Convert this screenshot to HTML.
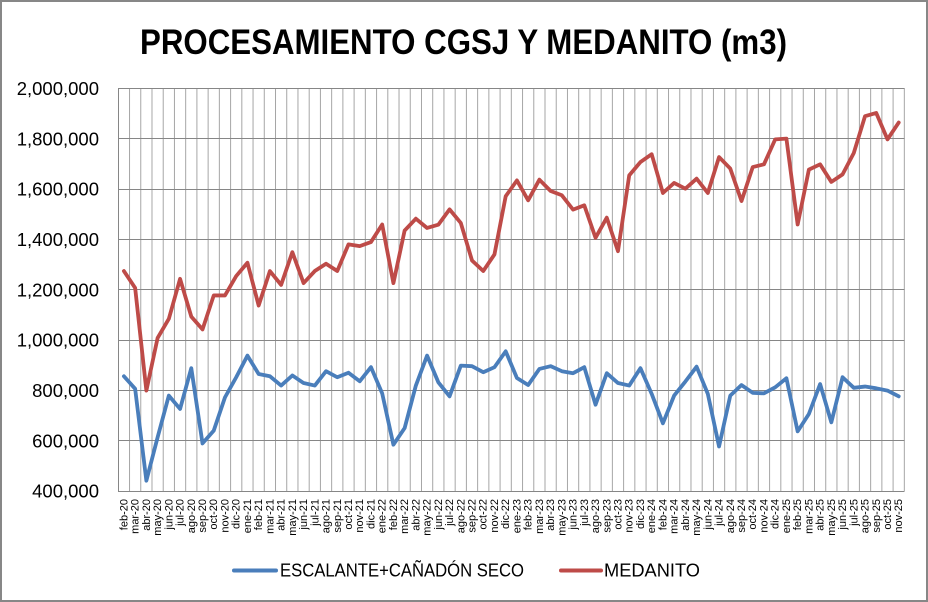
<!DOCTYPE html>
<html><head><meta charset="utf-8"><style>
html,body{margin:0;padding:0;background:#fff;}
svg{display:block;}
text{font-family:"Liberation Sans",Arial,sans-serif;fill:#000;}
</style></head><body>
<svg width="928" height="602" viewBox="0 0 928 602" xmlns="http://www.w3.org/2000/svg">
<rect x="0" y="0" width="928" height="602" fill="#fff"/>
<rect x="1" y="1" width="926" height="600" fill="none" stroke="#878787" stroke-width="2"/>
<text x="140" y="54" font-size="35" font-weight="bold" textLength="647" lengthAdjust="spacingAndGlyphs">PROCESAMIENTO CGSJ Y MEDANITO (m3)</text>
<!-- vertical gridlines -->
<g transform="matrix(11.229 0 0 402.7 118.3 88.3)">
<path vector-effect="non-scaling-stroke" stroke="#a6a6a6" stroke-width="1" fill="none" d="M1 0V1M2 0V1M3 0V1M4 0V1M5 0V1M6 0V1M7 0V1M8 0V1M9 0V1M10 0V1M11 0V1M12 0V1M13 0V1M14 0V1M15 0V1M16 0V1M17 0V1M18 0V1M19 0V1M20 0V1M21 0V1M22 0V1M23 0V1M24 0V1M25 0V1M26 0V1M27 0V1M28 0V1M29 0V1M30 0V1M31 0V1M32 0V1M33 0V1M34 0V1M35 0V1M36 0V1M37 0V1M38 0V1M39 0V1M40 0V1M41 0V1M42 0V1M43 0V1M44 0V1M45 0V1M46 0V1M47 0V1M48 0V1M49 0V1M50 0V1M51 0V1M52 0V1M53 0V1M54 0V1M55 0V1M56 0V1M57 0V1M58 0V1M59 0V1M60 0V1M61 0V1M62 0V1M63 0V1M64 0V1M65 0V1M66 0V1M67 0V1M68 0V1M69 0V1M70 0V1"/>
</g>
<!-- horizontal gridlines -->
<g stroke="#868686" stroke-width="1" shape-rendering="crispEdges">
<line x1="118.3" x2="904.5" y1="88.5" y2="88.5"/>
<line x1="118.3" x2="904.5" y1="138.5" y2="138.5"/>
<line x1="118.3" x2="904.5" y1="189.5" y2="189.5"/>
<line x1="118.3" x2="904.5" y1="239.5" y2="239.5"/>
<line x1="118.3" x2="904.5" y1="289.5" y2="289.5"/>
<line x1="118.3" x2="904.5" y1="340.5" y2="340.5"/>
<line x1="118.3" x2="904.5" y1="390.5" y2="390.5"/>
<line x1="118.3" x2="904.5" y1="440.5" y2="440.5"/>
<line x1="118.3" x2="904.5" y1="491.5" y2="491.5"/>
<line x1="118.5" x2="118.5" y1="88" y2="492"/>
</g>
<!-- y labels -->
<g font-size="18.5" text-anchor="end">
<text x="99" y="95">2,000,000</text>
<text x="99" y="145.3">1,800,000</text>
<text x="99" y="195.7">1,600,000</text>
<text x="99" y="246">1,400,000</text>
<text x="99" y="296.4">1,200,000</text>
<text x="99" y="346.7">1,000,000</text>
<text x="99" y="397">800,000</text>
<text x="99" y="447.4">600,000</text>
<text x="99" y="497.7">400,000</text>
</g>
<!-- series -->
<g transform="matrix(11.229 0 0 -0.25169 123.91 591.68)" fill="none" stroke-linejoin="round" stroke-linecap="round">
<polyline vector-effect="non-scaling-stroke" stroke="#4A7EBB" stroke-width="3.8" points="0,856 1,806 2,441 3,613 4,779 5,726 6,888 7,589 8,640 9,772 10,852 11,938 12,865 13,856 14,819 15,859 16,829 17,819 18,876 19,852 20,870 21,836 22,892 23,788 24,584 25,650 26,819 27,938 28,832 29,776 30,898 31,896 32,872 33,892 34,955 35,849 36,821 37,885 38,896 39,876 40,868 41,892 42,743 43,868 44,829 45,819 46,888 47,786 48,669 49,779 50,835 51,894 52,786 53,577 54,779 55,821 56,790 57,788 58,812 59,848 60,637 61,706 62,825 63,673 64,852 65,810 66,815 67,808 68,799 69,776"/>
<polyline vector-effect="non-scaling-stroke" stroke="#BE4B48" stroke-width="3.8" points="0,1274 1,1207 2,799 3,1008 4,1084 5,1243 6,1093 7,1042 8,1177 9,1177 10,1254 11,1307 12,1137 13,1274 14,1219 15,1349 16,1226 17,1274 18,1303 19,1274 20,1380 21,1373 22,1389 23,1459 24,1226 25,1435 26,1482 27,1445 28,1458 29,1519 30,1465 31,1316 32,1274 33,1340 34,1571 35,1634 36,1555 37,1637 38,1592 39,1575 40,1518 41,1535 42,1406 43,1486 44,1353 45,1654 46,1707 47,1738 48,1584 49,1624 50,1601 51,1641 52,1584 53,1727 54,1681 55,1552 56,1687 57,1698 58,1797 59,1800 60,1459 61,1677 62,1698 63,1628 64,1658 65,1743 66,1889 67,1902 68,1797 69,1864"/>
</g>
<!-- x labels -->
<g font-size="11" text-anchor="end">
<text transform="translate(127.4,499) rotate(-90)">feb-20</text>
<text transform="translate(138.6,499) rotate(-90)">mar-20</text>
<text transform="translate(149.9,499) rotate(-90)">abr-20</text>
<text transform="translate(161.1,499) rotate(-90)">may-20</text>
<text transform="translate(172.3,499) rotate(-90)">jun-20</text>
<text transform="translate(183.6,499) rotate(-90)">jul-20</text>
<text transform="translate(194.8,499) rotate(-90)">ago-20</text>
<text transform="translate(206.0,499) rotate(-90)">sep-20</text>
<text transform="translate(217.2,499) rotate(-90)">oct-20</text>
<text transform="translate(228.5,499) rotate(-90)">nov-20</text>
<text transform="translate(239.7,499) rotate(-90)">dic-20</text>
<text transform="translate(250.9,499) rotate(-90)">ene-21</text>
<text transform="translate(262.2,499) rotate(-90)">feb-21</text>
<text transform="translate(273.4,499) rotate(-90)">mar-21</text>
<text transform="translate(284.6,499) rotate(-90)">abr-21</text>
<text transform="translate(295.8,499) rotate(-90)">may-21</text>
<text transform="translate(307.1,499) rotate(-90)">jun-21</text>
<text transform="translate(318.3,499) rotate(-90)">jul-21</text>
<text transform="translate(329.5,499) rotate(-90)">ago-21</text>
<text transform="translate(340.8,499) rotate(-90)">sep-21</text>
<text transform="translate(352.0,499) rotate(-90)">oct-21</text>
<text transform="translate(363.2,499) rotate(-90)">nov-21</text>
<text transform="translate(374.4,499) rotate(-90)">dic-21</text>
<text transform="translate(385.7,499) rotate(-90)">ene-22</text>
<text transform="translate(396.9,499) rotate(-90)">feb-22</text>
<text transform="translate(408.1,499) rotate(-90)">mar-22</text>
<text transform="translate(419.4,499) rotate(-90)">abr-22</text>
<text transform="translate(430.6,499) rotate(-90)">may-22</text>
<text transform="translate(441.8,499) rotate(-90)">jun-22</text>
<text transform="translate(453.0,499) rotate(-90)">jul-22</text>
<text transform="translate(464.3,499) rotate(-90)">ago-22</text>
<text transform="translate(475.5,499) rotate(-90)">sep-22</text>
<text transform="translate(486.7,499) rotate(-90)">oct-22</text>
<text transform="translate(498.0,499) rotate(-90)">nov-22</text>
<text transform="translate(509.2,499) rotate(-90)">dic-22</text>
<text transform="translate(520.4,499) rotate(-90)">ene-23</text>
<text transform="translate(531.7,499) rotate(-90)">feb-23</text>
<text transform="translate(542.9,499) rotate(-90)">mar-23</text>
<text transform="translate(554.1,499) rotate(-90)">abr-23</text>
<text transform="translate(565.3,499) rotate(-90)">may-23</text>
<text transform="translate(576.6,499) rotate(-90)">jun-23</text>
<text transform="translate(587.8,499) rotate(-90)">jul-23</text>
<text transform="translate(599.0,499) rotate(-90)">ago-23</text>
<text transform="translate(610.3,499) rotate(-90)">sep-23</text>
<text transform="translate(621.5,499) rotate(-90)">oct-23</text>
<text transform="translate(632.7,499) rotate(-90)">nov-23</text>
<text transform="translate(643.9,499) rotate(-90)">dic-23</text>
<text transform="translate(655.2,499) rotate(-90)">ene-24</text>
<text transform="translate(666.4,499) rotate(-90)">feb-24</text>
<text transform="translate(677.6,499) rotate(-90)">mar-24</text>
<text transform="translate(688.9,499) rotate(-90)">abr-24</text>
<text transform="translate(700.1,499) rotate(-90)">may-24</text>
<text transform="translate(711.3,499) rotate(-90)">jun-24</text>
<text transform="translate(722.5,499) rotate(-90)">jul-24</text>
<text transform="translate(733.8,499) rotate(-90)">ago-24</text>
<text transform="translate(745.0,499) rotate(-90)">sep-24</text>
<text transform="translate(756.2,499) rotate(-90)">oct-24</text>
<text transform="translate(767.5,499) rotate(-90)">nov-24</text>
<text transform="translate(778.7,499) rotate(-90)">dic-24</text>
<text transform="translate(789.9,499) rotate(-90)">ene-25</text>
<text transform="translate(801.1,499) rotate(-90)">feb-25</text>
<text transform="translate(812.4,499) rotate(-90)">mar-25</text>
<text transform="translate(823.6,499) rotate(-90)">abr-25</text>
<text transform="translate(834.8,499) rotate(-90)">may-25</text>
<text transform="translate(846.1,499) rotate(-90)">jun-25</text>
<text transform="translate(857.3,499) rotate(-90)">jul-25</text>
<text transform="translate(868.5,499) rotate(-90)">ago-25</text>
<text transform="translate(879.8,499) rotate(-90)">sep-25</text>
<text transform="translate(891.0,499) rotate(-90)">oct-25</text>
<text transform="translate(902.2,499) rotate(-90)">nov-25</text>
</g>
<!-- legend -->
<line x1="234" y1="570.5" x2="276" y2="570.5" stroke="#4A7EBB" stroke-width="4" stroke-linecap="round"/>
<text x="280" y="576.5" font-size="18" textLength="244" lengthAdjust="spacingAndGlyphs">ESCALANTE+CAÑADÓN SECO</text>
<line x1="561" y1="570.5" x2="601" y2="570.5" stroke="#BE4B48" stroke-width="4" stroke-linecap="round"/>
<text x="604" y="576.5" font-size="18" textLength="96" lengthAdjust="spacingAndGlyphs">MEDANITO</text>
</svg>
</body></html>
